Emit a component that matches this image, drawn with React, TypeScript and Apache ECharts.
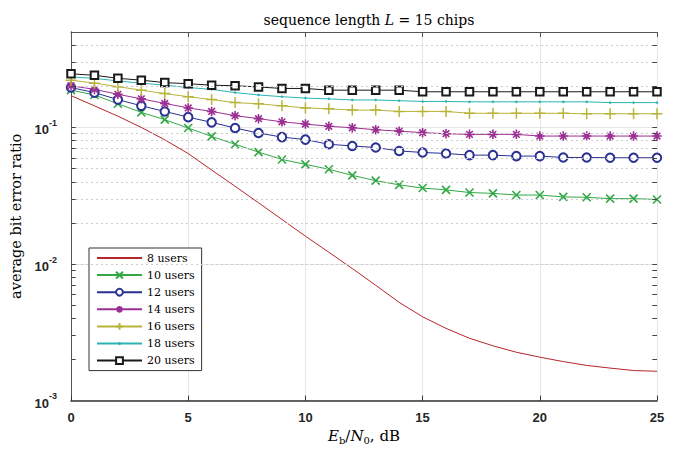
import React, { useEffect, useRef } from 'react';
import * as echarts from 'echarts';

const EBN0 = [0, 1, 2, 3, 4, 5, 6, 7, 8, 9, 10, 11, 12, 13, 14, 15, 16, 17, 18, 19, 20, 21, 22, 23, 24, 25];

const USERS_8 = [0.171, 0.144, 0.121, 0.1, 0.0812, 0.0644, 0.0488, 0.0371, 0.0281, 0.0212, 0.016, 0.0122, 0.00927, 0.00699, 0.00524, 0.00411, 0.00338, 0.00286, 0.00252, 0.00226, 0.00208, 0.00193, 0.00181, 0.00173, 0.00166, 0.00164];
const USERS_10 = [0.1875, 0.173, 0.149, 0.129, 0.114, 0.099, 0.086, 0.0753, 0.066, 0.0583, 0.0537, 0.0494, 0.0446, 0.0408, 0.038, 0.036, 0.0349, 0.0334, 0.0329, 0.032, 0.032, 0.031, 0.0308, 0.0301, 0.0301, 0.0297];
const USERS_12 = [0.196, 0.18, 0.16, 0.144, 0.131, 0.119, 0.109, 0.099, 0.091, 0.085, 0.0815, 0.0753, 0.0732, 0.0713, 0.0673, 0.0656, 0.0645, 0.0627, 0.0627, 0.0617, 0.0617, 0.0603, 0.0603, 0.06, 0.06, 0.06];
const USERS_14 = [0.202, 0.19, 0.175, 0.162, 0.15, 0.139, 0.131, 0.122, 0.116, 0.11, 0.106, 0.102, 0.0995, 0.0962, 0.094, 0.0916, 0.09, 0.089, 0.089, 0.089, 0.0865, 0.0865, 0.0865, 0.0865, 0.0865, 0.0865];
const USERS_16 = [0.222, 0.211, 0.199, 0.1875, 0.177, 0.168, 0.16, 0.152, 0.149, 0.144, 0.139, 0.137, 0.134, 0.134, 0.131, 0.131, 0.131, 0.127, 0.127, 0.127, 0.127, 0.127, 0.126, 0.126, 0.126, 0.126];
const USERS_18 = [0.234, 0.229, 0.219, 0.211, 0.204, 0.196, 0.19, 0.18, 0.173, 0.168, 0.164, 0.162, 0.159, 0.159, 0.157, 0.155, 0.155, 0.154, 0.154, 0.154, 0.154, 0.154, 0.154, 0.152, 0.152, 0.152];
const USERS_20 = [0.247, 0.241, 0.229, 0.222, 0.213, 0.209, 0.204, 0.202, 0.198, 0.193, 0.193, 0.1875, 0.1875, 0.1875, 0.1875, 0.1825, 0.1825, 0.1825, 0.1825, 0.1825, 0.1825, 0.1825, 0.1825, 0.1825, 0.1825, 0.1825];

const SERIES_NAMES = ['8 users', '10 users', '12 users', '14 users', '16 users', '18 users', '20 users'];
const X_TICKS = [0, 5, 10, 15, 20, 25];
const Y_MIN = 0.001;
const Y_MAX = 0.5;
const Y_MAJOR = [0.01, 0.1];
const Y_MINOR = [0.002, 0.003, 0.004, 0.005, 0.006, 0.007, 0.008, 0.009, 0.02, 0.03, 0.04, 0.05, 0.06, 0.07, 0.08, 0.09, 0.2, 0.3, 0.4];

const SERIF = 'DejaVu Serif';
const SANS = 'Liberation Sans';

const P_X = 'path://M0,0L10,10M10,0L0,10';
const P_PLUS = 'path://M5,0L5,10M0,5L10,5';
const P_STAR = 'path://M5,0L5,10M0,5L10,5M1.5,1.5L8.5,8.5M8.5,1.5L1.5,8.5';
// small dot inside a larger (invisible) box so it stays small in the legend too
const P_DOT = 'path://M0,0M20,20M11.5,10L11.06,11.06L10,11.5L8.94,11.06L8.5,10L8.94,8.94L10,8.5L11.06,8.94Z';

function pts(vals: number[]) {
  return EBN0.map((x, i) => [x, vals[i]]);
}

export default function App() {
  const ref = useRef<HTMLDivElement>(null);
  useEffect(() => {
    const chart = echarts.init(ref.current!, null, { renderer: 'svg' });

    const mk = (name: string, vals: number[], color: string, symbol: string, size: number, fill: string, bw: number) => ({
      name,
      type: 'line',
      data: pts(vals),
      symbol,
      symbolSize: size,
      showSymbol: symbol !== 'none',
      lineStyle: { color, width: 1 },
      itemStyle: { color: fill, borderColor: color, borderWidth: bw },
      emphasis: { disabled: true },
      z: 3,
    });

    const tickLen = 0.2;
    const tickData: any[] = [];
    Y_MINOR.concat(Y_MAJOR).forEach((v) => {
      tickData.push([{ coord: [X_TICKS[0], v] }, { coord: [X_TICKS[0] + tickLen, v] }]);
      tickData.push([{ coord: [X_TICKS[X_TICKS.length - 1] - tickLen, v] }, { coord: [X_TICKS[X_TICKS.length - 1], v] }]);
    });

    const legendData = SERIES_NAMES.map((n, i) => (i === 0 ? { name: n, itemStyle: { opacity: 0 } } : { name: n }));

    const option: any = {
      animation: false,
      backgroundColor: '#fff',
      title: {
        text: 'sequence length {i|L} = 15 chips',
        left: 364,
        top: 8,
        textAlign: 'center',
        textStyle: {
          fontFamily: SERIF,
          fontSize: 14,
          fontWeight: 'normal',
          color: '#000',
          rich: {
            i: { fontFamily: SERIF, fontSize: 14, fontStyle: 'italic', color: '#000' },
          },
        },
      },
      grid: { left: 71, right: 21, top: 32, bottom: 47 },
      legend: {
        data: legendData,
        orient: 'vertical',
        left: 89,
        top: 248,
        backgroundColor: '#fff',
        borderColor: '#333',
        borderWidth: 1,
        borderRadius: 0,
        padding: [4, 7, 4, 7],
        itemGap: 5.1,
        itemWidth: 45,
        itemHeight: 8.5,
        selectedMode: false,
        textStyle: { fontFamily: SERIF, fontSize: 11, color: '#000', lineHeight: 12 },
      },
      xAxis: [
        {
          type: 'value',
          min: 0,
          max: 25,
          interval: 5,
          name: '{i|E}{sub|b}{n|/}{i|N}{sub|0}{n|, dB}',
          nameLocation: 'middle',
          nameGap: 25,
          nameTextStyle: {
            rich: {
              i: { fontFamily: SERIF, fontSize: 15, fontStyle: 'italic', color: '#000', lineHeight: 18 },
              n: { fontFamily: SERIF, fontSize: 15, color: '#000', lineHeight: 18 },
              sub: { fontFamily: SERIF, fontSize: 10, color: '#000', verticalAlign: 'bottom', lineHeight: 18 },
            },
          },
          axisLine: { show: true, lineStyle: { color: '#333', width: 1.5 } },
          axisTick: { show: true, inside: true, length: 5, lineStyle: { color: '#333' } },
          axisLabel: { fontFamily: SANS, fontSize: 13, fontWeight: 'bold', color: '#262626', margin: 10 },
          splitLine: { show: true, lineStyle: { color: '#e6e6e6', width: 1 } },
        },
        {
          type: 'value',
          position: 'top',
          min: 0,
          max: 25,
          interval: 5,
          axisLine: { show: true, onZero: false, lineStyle: { color: '#555', width: 1 } },
          axisTick: { show: true, inside: true, length: 5, lineStyle: { color: '#555' } },
          axisLabel: { show: false },
          splitLine: { show: false },
        },
      ],
      yAxis: [
        {
          type: 'log',
          logBase: 10,
          min: Y_MIN,
          max: Y_MAX,
          name: 'average bit error ratio',
          nameLocation: 'middle',
          nameGap: 41,
          nameTextStyle: { fontFamily: SERIF, fontSize: 14.5, color: '#000' },
          axisLine: { show: true, lineStyle: { color: '#444', width: 1 } },
          axisTick: { show: false },
          axisLabel: {
            margin: 14,
            formatter: (v: number) => {
              const e = Math.log10(v);
              const r = Math.round(e);
              if (Math.abs(e - r) > 1e-6) return '';
              return '{b|10}{s|' + r + '}';
            },
            rich: {
              b: { fontFamily: SANS, fontSize: 13, fontWeight: 'bold', color: '#262626', lineHeight: 18, verticalAlign: 'bottom' },
              s: { fontFamily: SANS, fontSize: 9, fontWeight: 'bold', color: '#262626', lineHeight: 18, verticalAlign: 'top' },
            },
          },
          splitLine: { show: true, lineStyle: { color: '#e6e6e6', width: 1 } },
        },
        {
          type: 'log',
          logBase: 10,
          min: Y_MIN,
          max: Y_MAX,
          position: 'right',
          axisLine: { show: true, lineStyle: { color: '#555', width: 1 } },
          axisTick: { show: false },
          axisLabel: { show: false },
          splitLine: { show: false },
        },
      ],
      series: [
        {
          name: 'minorGrid',
          type: 'line',
          data: [],
          silent: true,
          z: 1,
          markLine: {
            silent: true,
            symbol: 'none',
            label: { show: false },
            lineStyle: { color: '#cccccc', type: [2, 3], width: 1 },
            data: Y_MINOR.map((v) => ({ yAxis: v })),
          },
        },
        {
          name: 'yTicks',
          type: 'line',
          data: [],
          silent: true,
          z: 2,
          markLine: {
            silent: true,
            symbol: 'none',
            label: { show: false },
            lineStyle: { color: '#444', type: 'solid', width: 1 },
            data: tickData,
          },
        },
        mk(SERIES_NAMES[0], USERS_8, '#b5262b', 'none', 0, '#b5262b', 1),
        mk(SERIES_NAMES[1], USERS_10, '#33a846', P_X, 8, '#33a846', 1.6),
        mk(SERIES_NAMES[2], USERS_12, '#2a3192', 'emptyCircle', 8.5, '#2a3192', 1.4),
        mk(SERIES_NAMES[3], USERS_14, '#9c2f94', P_STAR, 9.5, '#9c2f94', 1.6),
        mk(SERIES_NAMES[4], USERS_16, '#b8b43a', P_PLUS, 11, '#b8b43a', 1.5),
        mk(SERIES_NAMES[5], USERS_18, '#2cb3b3', P_DOT, 14, '#2cb3b3', 0.6),
        mk(SERIES_NAMES[6], USERS_20, '#1a1a1a', 'emptyRect', 7.5, '#1a1a1a', 1.4),
      ],
    };
    chart.setOption(option);
    return () => chart.dispose();
  }, []);
  return <div ref={ref} style={{ position: 'fixed', left: 0, top: 0, width: 678, height: 450 }} />;
}
